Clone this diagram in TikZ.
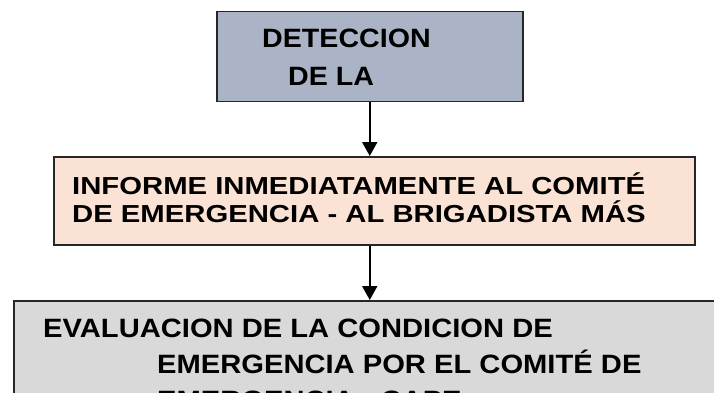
\documentclass[tikz,border=0pt]{standalone}
\usepackage{fontspec}
\setmainfont{Liberation Sans}
\newfontfamily\detfont[FakeStretch=1.08]{Liberation Sans}
\newfontfamily\infofont[FakeStretch=1.19]{Liberation Sans}
\newfontfamily\evalfont[FakeStretch=1.1]{Liberation Sans}
\usetikzlibrary{arrows.meta}
\definecolor{DetFill}{HTML}{AAB4C6}
\definecolor{InfoFill}{HTML}{FAE3D5}
\definecolor{EvalFill}{HTML}{D9D9D9}

\begin{document}
\begin{tikzpicture}[
	x=1pt, y=-1pt,
	box/.style={draw=black!85, line width=1.5pt, anchor=north west, inner sep=0pt},
	boxtext/.style={anchor=base west, align=left, inner sep=0pt},
	arrow/.style={-{Triangle[length=14pt,width=15pt]}, line width=2pt}
]
\clip (0,0) rectangle (714,393);
\node[box, fill=DetFill, minimum width=306pt, minimum height=90pt] (deteccion) at (216,11) {};
\node[box, fill=InfoFill, minimum width=641pt, minimum height=88pt] (informe) at (53,156) {};
\node[box, fill=EvalFill, minimum width=760pt, minimum height=150pt] (evaluacion) at (13,300) {};

% base anchor sits on the last line of each text
\node[boxtext, font=\detfont\bfseries\fontsize{26.5}{38}\selectfont] (detText) at (262,86)
	{DETECCION\\\hspace*{26pt}DE LA};
\node[boxtext, font=\infofont\bfseries\fontsize{24.6}{28}\selectfont] (infoText) at (72,222)
	{INFORME INMEDIATAMENTE AL COMITÉ\\DE EMERGENCIA - AL BRIGADISTA MÁS};
\node[boxtext, font=\evalfont\bfseries\fontsize{26.5}{36}\selectfont] (evalText) at (43,409)
	{EVALUACION DE LA CONDICION DE\\\hspace*{114pt}EMERGENCIA POR EL COMITÉ DE\\\hspace*{114pt}EMERGENCIA - CAPE};

\draw[arrow] (deteccion.south) -- (deteccion.south |- informe.north);
\draw[arrow] (informe.south -| deteccion.south) -- (deteccion.south |- evaluacion.north);
\end{tikzpicture}
\end{document}
